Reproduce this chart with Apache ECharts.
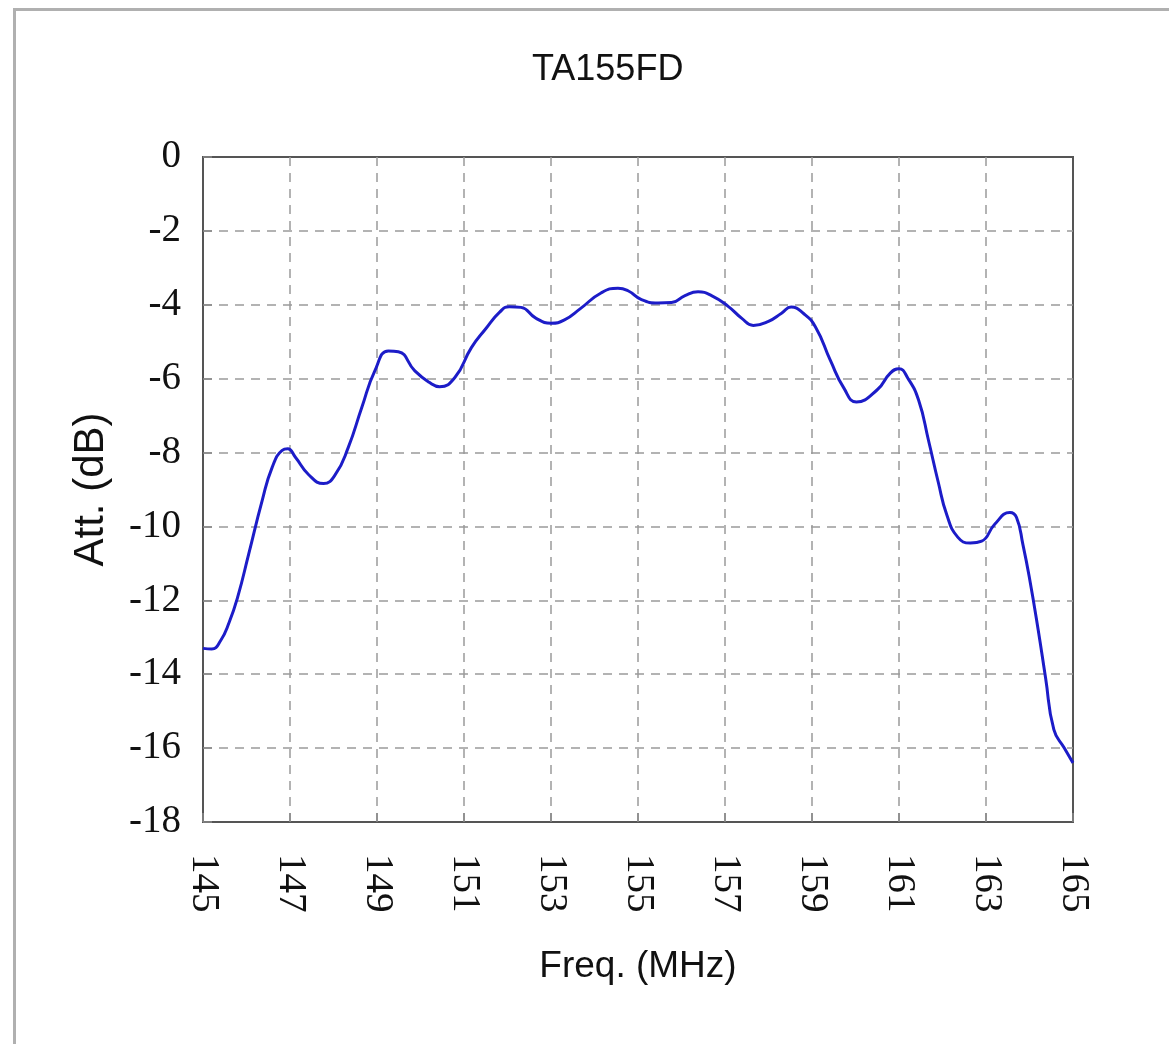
<!DOCTYPE html>
<html>
<head>
<meta charset="utf-8">
<script src="https://cdn.jsdelivr.net/npm/echarts@6/dist/echarts.min.js"></script>
<style>html,body{margin:0;padding:0;background:#fff;}#c{width:1169px;height:1044px;}</style>
</head>
<body>
<div id="c"></div>
<script>
const titleText = 'TA155FD';
const xName = 'Freq. (MHz)';
const yName = 'Att. (dB)';
const freq = [145.0,145.2,145.4,145.6,145.8,146.05,146.36,146.59,146.82,146.95,147.12,147.43,147.77,148.04,148.34,148.65,148.95,149.26,149.49,149.87,150.2,150.44,150.79,151.17,151.5,151.82,152.04,152.31,152.65,153.0,153.31,153.69,154.15,154.54,154.77,155.08,155.46,155.77,156.08,156.38,156.69,157.08,157.38,157.65,158.0,158.3,158.52,158.8,159.08,159.42,159.73,160.02,160.5,160.8,161.0,161.2,161.45,161.68,161.9,162.1,162.35,162.64,162.9,163.2,163.55,163.7,163.85,164.0,164.2,164.37,164.56,164.8,165.0];
const att = [-13.3,-13.32,-13.1,-12.6,-11.9,-10.75,-9.3,-8.4,-7.94,-7.9,-8.12,-8.6,-8.84,-8.6,-7.86,-6.78,-5.79,-5.25,-5.27,-5.79,-6.1,-6.22,-5.97,-5.16,-4.65,-4.2,-4.05,-4.07,-4.36,-4.5,-4.41,-4.09,-3.68,-3.55,-3.62,-3.86,-3.95,-3.94,-3.75,-3.65,-3.75,-4.05,-4.36,-4.56,-4.45,-4.23,-4.06,-4.23,-4.6,-5.5,-6.25,-6.63,-6.3,-5.85,-5.73,-5.98,-6.58,-7.68,-8.79,-9.69,-10.29,-10.45,-10.4,-9.94,-9.62,-9.75,-10.5,-11.4,-12.8,-14.1,-15.5,-16.0,-16.4];
const xMin = 145, xMax = 165, xStep = 2;
const yMin = -18, yMax = 0, yStep = 2;

const chart = echarts.init(document.getElementById('c'), null, {renderer: 'canvas'});
const gridLine = {show: true, showMinLine: false, showMaxLine: false, lineStyle: {type: [9, 7], color: '#9a9a9a', width: 1.5}};
chart.setOption({
  backgroundColor: '#fff',
  animation: false,
  graphic: [{
    type: 'rect', left: 12, top: 7, silent: true,
    shape: {width: 1200, height: 1100},
    style: {fill: 'none', stroke: '#b0b0b0', lineWidth: 3}
  }],
  title: {
    text: titleText, left: 527, top: 47,
    textStyle: {fontFamily: 'Liberation Sans', fontSize: 36, fontWeight: 'normal', color: '#111'}
  },
  grid: {left: 203, top: 157, right: 96, bottom: 222, show: true, borderColor: '#555', borderWidth: 2, backgroundColor: 'transparent'},
  xAxis: {
    type: 'value', min: xMin, max: xMax, interval: xStep,
    name: xName, nameLocation: 'middle', nameGap: 126,
    nameTextStyle: {fontFamily: 'Liberation Sans', fontSize: 37, color: '#111'},
    axisLine: {show: true, onZero: false, lineStyle: {color: '#555', width: 2}},
    axisTick: {show: true, inside: true, length: 9, lineStyle: {color: '#888', width: 1.5}},
    axisLabel: {rotate: -90, margin: 32, fontFamily: 'Liberation Serif', fontSize: 39, color: '#111'},
    splitLine: gridLine
  },
  yAxis: {
    type: 'value', min: yMin, max: yMax, interval: yStep,
    name: yName, nameLocation: 'middle', nameGap: 91,
    nameTextStyle: {fontFamily: 'Liberation Sans', fontSize: 42, color: '#111'},
    axisLine: {show: true, onZero: false, lineStyle: {color: '#555', width: 2}},
    axisTick: {show: true, inside: true, length: 9, lineStyle: {color: '#888', width: 1.5}},
    axisLabel: {margin: 22, fontFamily: 'Liberation Serif', fontSize: 39, color: '#111'},
    splitLine: gridLine
  },
  series: [{
    type: 'line',
    data: freq.map((f, i) => [f, att[i]]),
    smooth: 0.5,
    showSymbol: false,
    lineStyle: {color: '#1c1cc8', width: 3}
  }]
});
</script>
</body>
</html>
